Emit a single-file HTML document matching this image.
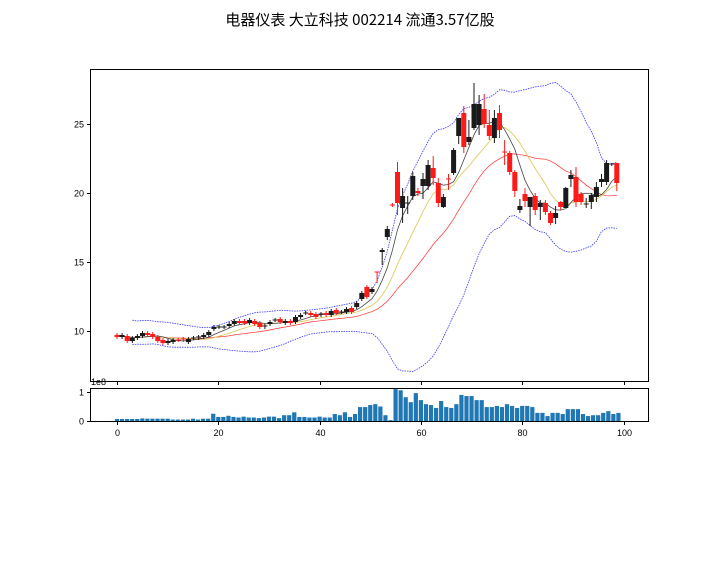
<!DOCTYPE html>
<html><head><meta charset="utf-8"><style>
body{margin:0;background:#fff;width:720px;height:576px;overflow:hidden}
svg{display:block}
text{font-family:"Liberation Sans","Noto Sans CJK SC",sans-serif;font-size:9px;fill:#000}
</style></head><body>
<svg id="s" width="720" height="576" xmlns="http://www.w3.org/2000/svg">
<text x="360" y="25" text-anchor="middle" style="font-size:15px;font-family:'Noto Sans CJK SC',sans-serif">电器仪表 大立科技 002214 流通3.57亿股</text>
</svg>
<script>
const s=document.getElementById('s');
function el(t,a,txt){const e=document.createElementNS('http://www.w3.org/2000/svg',t);for(const k in a)e.setAttribute(k,a[k]);if(txt!==undefined)e.textContent=txt;s.appendChild(e);return e;}
const X=i=>117+5.1*i;
const C=[
['r',335,337],['k',335,337],['r',336,341],['k',338,341],['k',336,338],['k',333,336],['r',333,335],['r',334,337],['r',337,341],['r',340,343],
['k',341,343],['k',340,342],['r',340,340],['r',339,340],['k',339,342],['k',338,338],['k',337,338],['k',335,337],['k',332,335],['k',327,329],
['k',327,327],['k',327,327],['k',324,326],['k',321,324],['r',321,323],['r',321,323],['k',320,323],['r',321,324],['r',323,327],['k',326,327],
['k',322,324],['k',320,320],['r',319,322],['k',321,323],['r',321,323],['k',317,322],['k',315,317],['k',313,313],['r',313,315],['r',314,317],
['k',314,315],['r',313,315],['k',311,315],['r',310,313],['k',312,312],['k',309,312],['r',308,312],['k',303,307],['k',293,299],['r',287,297],
['k',289,292],['r',272,272,272,283],['k',250,252,248,265],['k',229,237,226,240],['r',205,205,203,207],['r',172,203,162,215],['k',196,208,188,223],['k',203,203,196,214],['k',176,196,172,200],['r',191,193,188,196],
['k',179,186,173,199],['k',165,186,160,190],['r',168,178,156,185],['r',183,203,178,207],['k',197,207,194,208],['r',179,179,174,190],['k',150,173,148,175],['k',118,136,118,144],['r',113,147,106,153],['k',137,142,120,145],
['k',104,128,83,130],['k',104,125,95,135],['r',109,124,94,128],['r',125,136,110,140],['k',118,138,110,143],['r',113,130,105,138],['r',152,152,140,165],['r',153,172,151,175],['r',172,191,170,197],['k',206,210,199,213],
['r',194,201,188,207],['k',197,207,197,226],['r',196,210,193,215],['k',203,207,200,220],['r',203,212,200,215],['r',213,223,211,225],['k',213,218,206,224],['r',202,207,201,210],['k',188,208,187,208],['k',175,179,170,187],
['r',177,202,167,207],['r',194,202,192,205],['k',204,204,198,208],['k',195,202,193,209],['k',187,197,182,202],['k',179,182,174,187],['k',163,182,160,185],['n',164,164,163,166],['r',163,183,163,191]];
const cl=C.map(c=>(c[1]+c[2])/2);
function ma(n){return cl.map((v,i)=>{const a=cl.slice(Math.max(0,i-n+1),i+1);return a.reduce((p,q)=>p+q,0)/a.length;});}
const m5=ma(5),m10=ma(10),m20=ma(20);
const up=[],lo=[];
cl.forEach((v,i)=>{const a=cl.slice(Math.max(0,i-19),i+1);const m=a.reduce((p,q)=>p+q,0)/a.length;const sd=Math.sqrt(a.reduce((p,q)=>p+(q-m)*(q-m),0)/a.length);const e=i<20?4+6*(20-i)/20:4;up.push(m-2*sd-e-(i<20?6*(20-i)/20:0));lo.push(m+2*sd+e-(i<20?6*(20-i)/20:0));});
function line(arr,col,w,dash,start){let d='';arr.forEach((v,i)=>{if(i<start)return;d+=(d?'L':'M')+X(i).toFixed(1)+' '+v.toFixed(1);});el('path',{d:d,fill:'none',stroke:col,'stroke-width':w,'stroke-dasharray':dash||'none'});}
line(up,'#3333ff',0.8,'1.5,1',3);line(lo,'#3333ff',0.8,'1.5,1',3);
line(m20,'#ff3030',0.7,null,0);line(m10,'#d8c850',0.8,null,0);line(m5,'#444',0.8,null,0);
C.forEach((c,i)=>{const x=X(i);const col=c[0]=='r'?'#ff1a1a':(c[0]=='n'?'#1a1a60':'#1a1a1a');
const wt=c.length>3?c[3]:c[1]-2,wb=c.length>3?c[4]:c[2]+2;
el('line',{x1:x,x2:x,y1:wt,y2:wb,stroke:col,'stroke-width':1});
const h=Math.max(1,c[2]-c[1]);el('rect',{x:x-2.5,y:c[1]-(h==1?0.5:0),width:5,height:h,fill:col});});
const V=[.07,.07,.07,.07,.07,.09,.08,.08,.08,.08,.08,.05,.05,.05,.05,.08,.05,.08,.08,.25,.14,.14,.18,.14,.12,.15,.12,.12,.1,.12,.15,.15,.1,.2,.2,.3,.14,.14,.12,.12,.15,.12,.12,.24,.2,.3,
.14,.24,.48,.48,.55,.58,.5,.2,.03,1.1,1.06,.82,.65,.96,.72,.58,.55,.45,.69,.48,.45,.58,.9,.86,.86,.72,.72,.48,.48,.52,.48,.58,.52,.45,.52,.52,.48,.28,.28,.17,.28,.28,.24,.41,.41,.41,.24,.17,.2,.2,.28,.34,.24,.28];
V.forEach((v,i)=>{const h=v*29;el('rect',{x:117+5.065*i-2.1,y:421-h,width:4.2,height:h,fill:'#1f77b4'});});
el('rect',{x:90.5,y:69.5,width:558,height:312,fill:'none',stroke:'#000','stroke-width':1});
el('rect',{x:90.5,y:388.5,width:558,height:33,fill:'none',stroke:'#000','stroke-width':1});
[[25,124],[20,193],[15,262],[10,331]].forEach(t=>{el('line',{x1:87,x2:90,y1:t[1]+.5,y2:t[1]+.5,stroke:'#000'});el('text',{x:84,y:t[1]+3.5,'text-anchor':'end'},t[0]);});
[[1,392],[0,421]].forEach(t=>{el('line',{x1:87,x2:90,y1:t[1]+.5,y2:t[1]+.5,stroke:'#000'});el('text',{x:84,y:t[1]+3.5,'text-anchor':'end'},t[0]);});
[0,20,40,60,80,100].forEach(v=>{const x=Math.round(117+5.065*v)+.5;el('line',{x1:x,x2:x,y1:382,y2:385,stroke:'#000'});el('line',{x1:x,x2:x,y1:422,y2:425,stroke:'#000'});el('text',{x:x,y:436,'text-anchor':'middle'},v);});
el('text',{x:91,y:385},'1e8');
</script>
</body></html>
